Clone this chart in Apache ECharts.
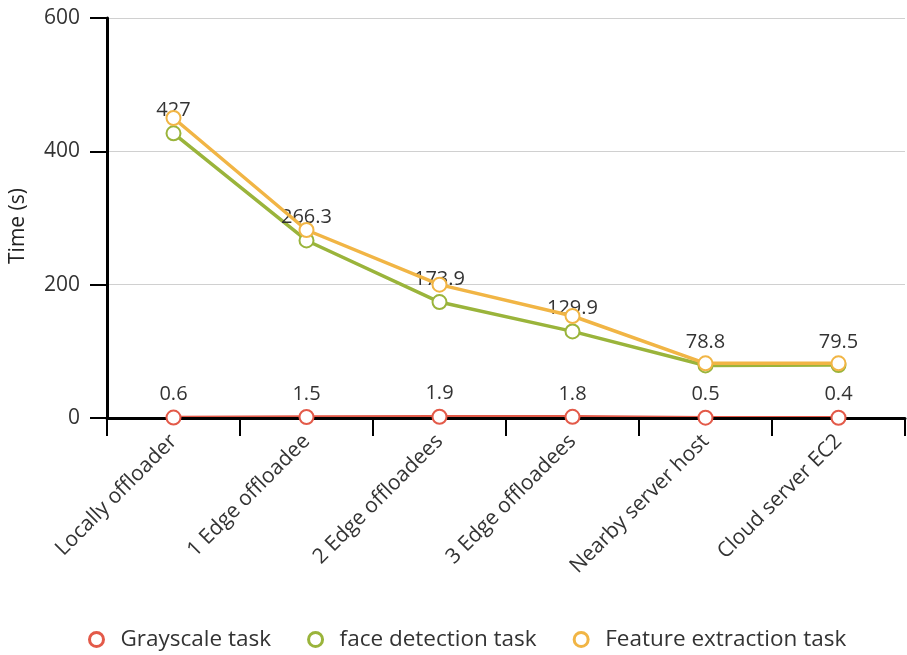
<!DOCTYPE html>
<html>
<head>
<meta charset="utf-8">
<script src="https://cdn.jsdelivr.net/npm/echarts@6/dist/echarts.min.js"></script>
<style>
  html, body { margin: 0; padding: 0; background: #fff; }
  #chart { width: 907px; height: 655px; }
</style>
</head>
<body>
<div id="chart"></div>
<script>
// Execution time per offloading setup
const categories = ['Locally offloader', '1 Edge offloadee', '2 Edge offloadees', '3 Edge offloadees', 'Nearby server host', 'Cloud server EC2'];
const grayscaleTask = [0.6, 1.5, 1.9, 1.8, 0.5, 0.4];
const faceDetectionTask = [427, 266.3, 173.9, 129.9, 78.8, 79.5];
const featureExtractionTask = [450, 282, 200, 153, 82, 82];
const yTicks = [0, 200, 400, 600];

const FONT = '"Open Sans", "DejaVu Sans", sans-serif';
const colors = ['#e35a49', '#9ab43b', '#f1b545'];

const chart = echarts.init(document.getElementById('chart'), null, { renderer: 'canvas' });

function lineSeries(name, data, color, showLabel, z) {
  return {
    name: name,
    type: 'line',
    data: data,
    z: z,
    symbol: 'emptyCircle',
    symbolSize: 14,
    lineStyle: { color: color, width: 3.5 },
    itemStyle: { color: color, borderColor: color, borderWidth: 3 },
    label: {
      show: showLabel,
      position: 'top',
      distance: 5,
      color: '#333',
      fontFamily: FONT,
      fontSize: 20
    },
    emphasis: { disabled: true },
    animation: false
  };
}

// The grayscale line runs along the x axis: its stroke sits under the axis line,
// while its markers and labels sit above it.
const grayLine = lineSeries('Grayscale task', grayscaleTask, colors[0], false, 1);
grayLine.symbol = 'none';
const grayMarks = lineSeries('Grayscale task', grayscaleTask, colors[0], true, 5);
grayMarks.lineStyle = { color: colors[0], width: 3, opacity: 0 };

chart.setOption({
  backgroundColor: '#fff',
  animation: false,
  grid: { left: 105, right: 2, top: 18, bottom: 237, containLabel: false },
  legend: {
    top: 623,
    left: 83,
    itemWidth: 38,
    itemHeight: 14,
    itemGap: 36,
    icon: 'circle',
    itemStyle: { color: '#fff', borderColor: 'inherit', borderWidth: 3 },
    textStyle: { fontFamily: FONT, fontSize: 22.5, color: '#333' },
    data: ['Grayscale task', 'face detection task', 'Feature extraction task']
  },
  xAxis: {
    type: 'category',
    data: categories,
    boundaryGap: true,
    z: 2,
    axisLine: { lineStyle: { color: '#000', width: 3 } },
    axisTick: { show: true, length: 18, alignWithLabel: false, lineStyle: { color: '#000', width: 2 } },
    axisLabel: {
      rotate: 45,
      margin: 20,
      color: '#333',
      fontFamily: FONT,
      fontSize: 21,
      interval: 0
    },
    splitLine: { show: false }
  },
  yAxis: {
    type: 'value',
    min: yTicks[0],
    max: yTicks[yTicks.length - 1],
    interval: yTicks[1] - yTicks[0],
    name: 'Time (s)',
    nameLocation: 'middle',
    nameRotate: 90,
    nameGap: 78,
    nameTextStyle: { color: '#222', fontFamily: FONT, fontSize: 21, padding: [0, 16, 0, 0] },
    axisLine: { show: true, lineStyle: { color: '#000', width: 3 } },
    axisTick: { show: true, length: 17, lineStyle: { color: '#000', width: 2 } },
    axisLabel: { margin: 27, color: '#333', fontFamily: FONT, fontSize: 21 },
    splitLine: { show: true, lineStyle: { color: '#d0d0d0', width: 1 } }
  },
  series: [
    grayLine,
    lineSeries('face detection task', faceDetectionTask, colors[1], true, 3),
    lineSeries('Feature extraction task', featureExtractionTask, colors[2], false, 4),
    grayMarks
  ]
});
</script>
</body>
</html>
